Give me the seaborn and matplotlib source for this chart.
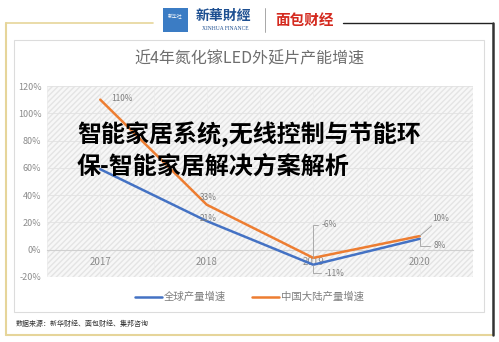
import matplotlib
matplotlib.use("Agg")
import matplotlib.pyplot as plt
import seaborn as sns
import pandas as pd
from matplotlib.lines import Line2D
from matplotlib.patches import Rectangle

years = ["2017", "2018", "2019", "2020"]
global_growth = [59, 21, -11, 8]
china_growth = [110, 33, -6, 10]
series_names = ["全球产量增速", "中国大陆产量增速"]
yticks = [-20, 0, 20, 40, 60, 80, 100, 120]
title = "近4年氮化镓LED外延片产能增速"
overlay = "智能家居系统,无线控制与节能环\n保-智能家居解决方案解析"
source = "数据来源：新华财经、面包财经、集邦咨询"

sns.set_theme(style="white")
plt.rcParams['font.family'] = ['Noto Sans CJK SC', 'DejaVu Sans']

W, H = 499, 342
fig = plt.figure(figsize=(W / 100, H / 100), dpi=100)

def fx(x): return x / W
def fy(y): return 1 - y / H

# frames
fig.add_artist(Rectangle((fx(14), fy(312)), fx(484) - fx(14), fy(40) - fy(312),
                         transform=fig.transFigure, facecolor="white", edgecolor="#dcdcdc", lw=0.8, zorder=-5))
gold = "#e6d59a"
fig.add_artist(Line2D([fx(6), fx(153)], [fy(23), fy(23)], transform=fig.transFigure, color=gold, lw=1.2, zorder=-4))
fig.add_artist(Line2D([fx(6), fx(6)], [fy(23), fy(335)], transform=fig.transFigure, color=gold, lw=1.5, zorder=-4))
fig.add_artist(Line2D([fx(6), fx(493)], [fy(335), fy(335)], transform=fig.transFigure, color=gold, lw=1.5, zorder=-4))
fig.add_artist(Line2D([fx(343), fx(493)], [fy(23), fy(23)], transform=fig.transFigure, color="#222222", lw=1.0, zorder=-4))
fig.add_artist(Line2D([fx(493), fx(493)], [fy(23), fy(335)], transform=fig.transFigure, color="#333333", lw=1.8, zorder=-4))

# header logos (approximation)
fig.add_artist(Rectangle((fx(163), fy(32)), fx(25) - fx(0), fy(8) - fy(32),
                         transform=fig.transFigure, facecolor="#3b7cc4", edgecolor="none", zorder=-4))
fig.text(fx(175.5), fy(17), "新华社", color="white", fontsize=3.5, ha="center", va="center")
fig.text(fx(223), fy(16), "新華財經", color="#1d4f91", fontsize=10, ha="center", va="center",
         fontweight="bold", style="italic")
fig.text(fx(225), fy(29), "XINHUA FINANCE", color="#1d4f91", fontsize=4, ha="center", va="center",
         family=["Liberation Serif", "DejaVu Serif"])
fig.add_artist(Line2D([fx(265), fx(265)], [fy(8), fy(32)], transform=fig.transFigure, color="#999999", lw=0.6))
fig.text(fx(305), fy(20), "面包财经", color="#d42a1f", fontsize=10.5, ha="center", va="center",
         fontweight="heavy")

# main axes
ax = fig.add_axes([fx(47), fy(277), fx(473) - fx(47), fy(86) - fy(277)])
ax.set_zorder(1)
ax.set_facecolor("#f7f7f7")
ax.add_patch(Rectangle((0, 0), 1, 1, transform=ax.transAxes, facecolor="none",
                       edgecolor="#e4e4e4", hatch="//////", lw=0, zorder=0))

df = pd.DataFrame({
    "year": years * 2,
    "value": global_growth + china_growth,
    "series": [series_names[0]] * 4 + [series_names[1]] * 4,
})
df["x"] = list(range(4)) * 2
sns.lineplot(data=df, x="x", y="value", hue="series", palette=["#4472c4", "#ed7d31"],
             linewidth=1.8, ax=ax, legend=False, zorder=5)

for s in ["top", "right", "left"]:
    ax.spines[s].set_visible(False)
ax.spines["bottom"].set_position(("data", 0))
ax.spines["bottom"].set_color("#d0d0d0")
ax.spines["bottom"].set_linewidth(0.8)

ax.set_xlim(-0.5, 3.5)
ax.set_ylim(-20, 120)
ax.set_yticks(yticks)
ax.set_yticklabels([f"{v}%" for v in yticks], color="#8c8c8c", fontsize=6.5)
ax.set_xticks(range(4))
ax.set_xticklabels(years, color="#8c8c8c", fontsize=7)
ax.tick_params(axis="x", length=0, pad=5)
ax.tick_params(axis="y", length=0, pad=4)
ax.set_xlabel("")
ax.set_ylabel("")
for y in yticks:
    ax.axhline(y, color="#e2e2e2", lw=0.6, zorder=1)
for xv in [-0.5, 0, 0.5, 1, 1.5, 2, 2.5, 3, 3.5]:
    ax.axvline(xv, color="#ececec", lw=0.5, zorder=1)

lab = dict(color="#7f7f7f", fontsize=6, zorder=6)
ax.annotate("110%", (0, china_growth[0]), xytext=(8, 1), textcoords="offset points", ha="left", va="center", **lab)
ax.annotate(f"{china_growth[1]}%", (1, china_growth[1]), xytext=(-5, 5), textcoords="offset points", ha="left", va="center", **lab)
ax.annotate(f"{global_growth[1]}%", (1, global_growth[1]), xytext=(-5, 2), textcoords="offset points", ha="left", va="center", **lab)
lc = dict(arrowstyle="-", color="#a0a0a0", lw=0.6, shrinkA=0, shrinkB=0)
ax.annotate(f"{china_growth[2]}%", (2, china_growth[2]), xytext=(6, 24), textcoords="offset points",
            ha="left", va="center", arrowprops=dict(connectionstyle="angle,angleA=0,angleB=90", **lc), **lab)
ax.annotate(f"{global_growth[2]}%", (2, global_growth[2]), xytext=(8, -6), textcoords="offset points",
            ha="left", va="center", arrowprops=dict(connectionstyle="angle,angleA=0,angleB=90", **lc), **lab)
ax.annotate(f"{china_growth[3]}%", (3, china_growth[3]), xytext=(9, 13), textcoords="offset points",
            ha="left", va="center", arrowprops=dict(**lc), **lab)
ax.annotate(f"{global_growth[3]}%", (3, global_growth[3]), xytext=(10, -5), textcoords="offset points",
            ha="left", va="center", arrowprops=dict(connectionstyle="angle,angleA=0,angleB=90", **lc), **lab)

fig.text(0.5, fy(59), title, color="#6e6e6e", fontsize=11.5, ha="center", va="center")

handles = [Line2D([], [], color="#4472c4", lw=1.8), Line2D([], [], color="#ed7d31", lw=1.8)]
leg = fig.legend(handles, series_names, loc="center", bbox_to_anchor=(0.5, fy(297)), ncol=2,
                 frameon=False, fontsize=7.5, handlelength=2.6, handletextpad=0.2, columnspacing=2.5)
for t in leg.get_texts():
    t.set_color("#7f7f7f")

fig.text(fx(16), fy(324), source, color="#333333", fontsize=5, ha="left", va="center")

fig.text(fx(77), fy(150), overlay, color="black", fontsize=17.3, fontweight="heavy",
         ha="left", va="center", linespacing=1.35, zorder=20)

fig.savefig("out.png", dpi=100)
